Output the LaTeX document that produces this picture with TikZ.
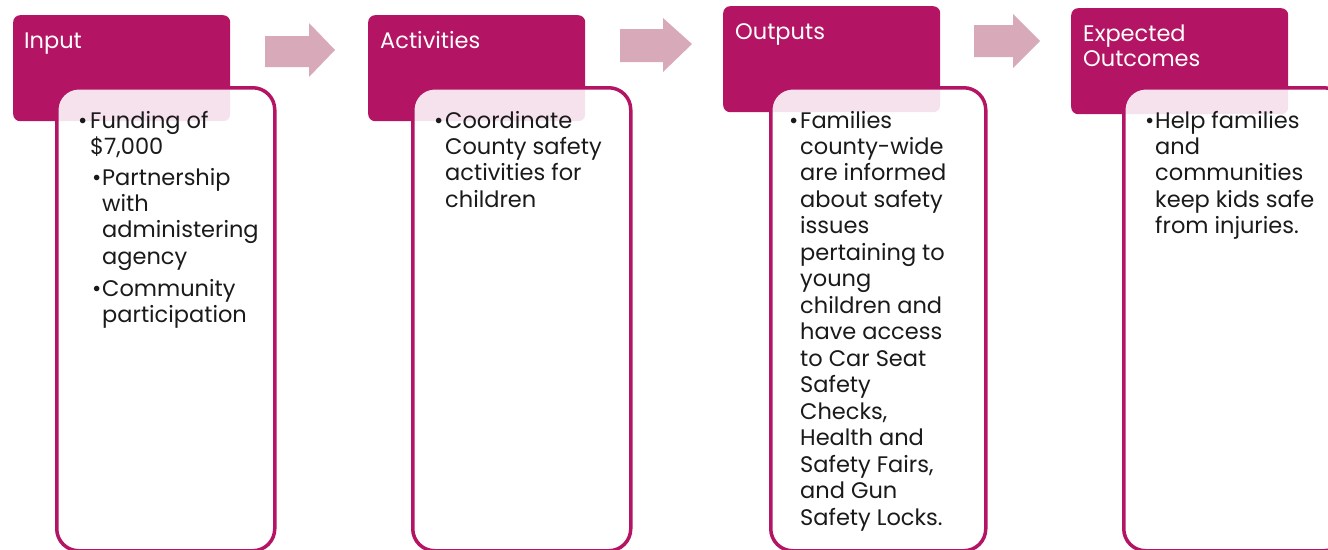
\documentclass[tikz,border=0pt]{standalone}
\usepackage{fontspec}
\setmainfont{Poppins}
\definecolor{mag}{HTML}{B41464}
\definecolor{arr}{HTML}{D8AAB9}
\definecolor{txt}{HTML}{1A1A1A}
\tikzset{
  headbox/.style={fill=mag, rounded corners=7pt, inner sep=0, anchor=north west, minimum width=217pt, minimum height=106pt},
  bodybox/.style={draw=mag, line width=3.5pt, fill=white, fill opacity=0.88, rounded corners=22pt, inner sep=0, anchor=north west, minimum height=463pt},
  htext/.style={anchor=base west, inner sep=0, text=white, font=\fontsize{22.5}{25}\selectfont},
  btext/.style={anchor=base west, inner sep=0, text=txt, font=\fontsize{22.5}{26.47}\selectfont},
  flow/.style={fill=arr}
}
\newcommand{\bitem}[2]{\makebox[#1][l]{\textbullet}\parbox[t]{210pt}{\raggedright #2}}
\begin{document}
\begin{tikzpicture}[x=1pt,y=-1pt]
\useasboundingbox (0,0) rectangle (1328,549);
\clip (0,0) rectangle (1328,549);
% headers
\node[headbox] (h1) at (13,15) {};
\node[headbox] (h2) at (368,15) {};
\node[headbox] (h3) at (723,6) {};
\node[headbox] (h4) at (1071,8) {};
% header texts
\node[htext] (ht1) at (24,48) {Input};
\node[htext] (ht2) at (380,48) {Activities};
\node[htext] (ht3) at (735,39) {Outputs};
\node[htext] (ht4) at (1083,41) {\parbox[t]{200pt}{Expected\\Outcomes}};
% bodies
\node[bodybox, minimum width=218pt] (b1) at (55,86) {};
\node[bodybox, minimum width=218pt] (b2) at (411,86) {};
\node[bodybox, minimum width=215pt] (b3) at (769,86) {};
\node[bodybox, minimum width=222pt] (b4) at (1122,86) {};
% arrows
\fill[flow] (265,36) -- (309,36) -- (309,23) -- (335,50) -- (309,77) -- (309,67) -- (265,67) -- cycle;
\fill[flow] (620,29) -- (663,29) -- (663,18) -- (692,44) -- (663,72) -- (663,62) -- (620,62) -- cycle;
\fill[flow] (974,25) -- (1013,25) -- (1013,14) -- (1040,41) -- (1013,68) -- (1013,57) -- (974,57) -- cycle;
% body texts
\node[btext] (t11) at (78,128) {\bitem{12pt}{Funding of\\\$7,000}};
\node[btext] (t12) at (92,185) {\bitem{10pt}{Partnership\\with\\administering\\agency}};
\node[btext] (t13) at (92,296) {\bitem{10pt}{Community\\participation}};
\node[btext] (t21) at (434,128) {\bitem{11pt}{Coordinate\\County safety\\activities for\\children}};
\node[btext] (t31) at (789,128) {\bitem{11pt}{Families\\county-wide\\are informed\\about safety\\issues\\pertaining to\\young\\children and\\have access\\to Car Seat\\Safety\\Checks,\\Health and\\Safety Fairs,\\and Gun\\Safety Locks.}};
\node[btext] (t41) at (1145,128) {\bitem{10pt}{Help families\\and\\communities\\keep kids safe\\from injuries.}};
\end{tikzpicture}
\end{document}
